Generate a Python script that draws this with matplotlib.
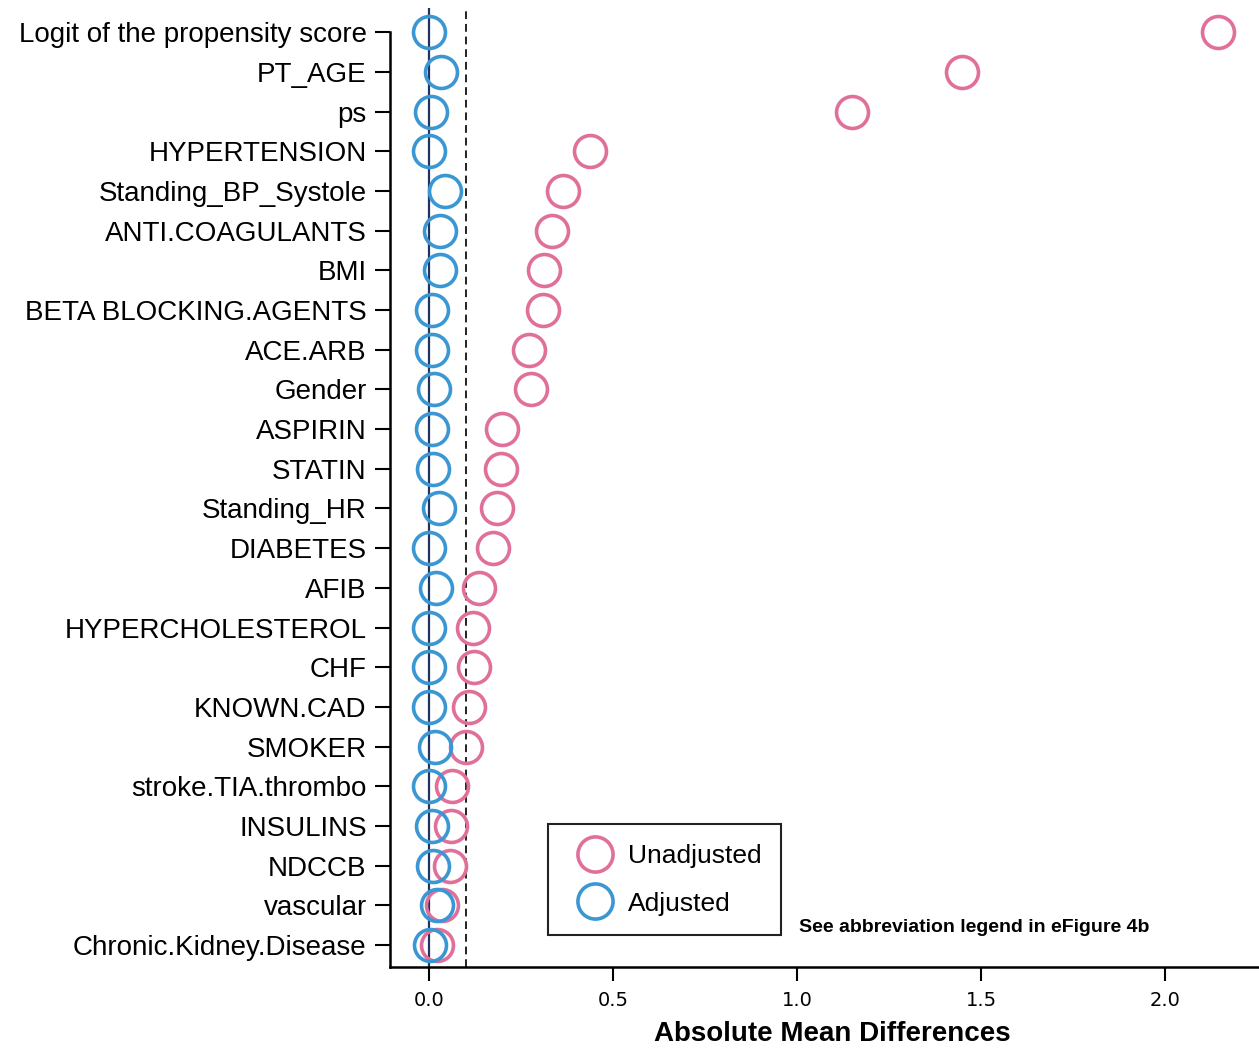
import numpy as np
import matplotlib as mpl
mpl.use('agg')
import matplotlib.pyplot as plt

## data, top row first
variables = ['Logit of the propensity score', 'PT_AGE', 'ps', 'HYPERTENSION',
             'Standing_BP_Systole', 'ANTI.COAGULANTS', 'BMI', 'BETA BLOCKING.AGENTS',
             'ACE.ARB', 'Gender', 'ASPIRIN', 'STATIN', 'Standing_HR', 'DIABETES',
             'AFIB', 'HYPERCHOLESTEROL', 'CHF', 'KNOWN.CAD', 'SMOKER',
             'stroke.TIA.thrombo', 'INSULINS', 'NDCCB', 'vascular',
             'Chronic.Kidney.Disease']
unadjusted = [2.144, 1.448, 1.149, 0.438, 0.364, 0.334, 0.313, 0.310, 0.272, 0.277,
              0.198, 0.196, 0.185, 0.174, 0.136, 0.120, 0.122, 0.109, 0.100,
              0.063, 0.060, 0.057, 0.035, 0.022]
adjusted = [0.000, 0.033, 0.005, 0.000, 0.043, 0.030, 0.030, 0.008, 0.008, 0.014,
            0.008, 0.011, 0.027, 0.000, 0.019, 0.000, 0.000, 0.000, 0.016,
            0.000, 0.008, 0.011, 0.020, 0.003]
threshold = 0.1

pink = '#e0709a'
blue = '#3a97d4'
plt.rcParams['font.family'] = ['Liberation Sans', 'DejaVu Sans']

n = len(variables)
y = np.arange(n, 0, -1)

fig = plt.figure(figsize=(12.59, 10.5), dpi=100)
ax = fig.add_axes([0.31, 0.079, 0.69, 0.913])

ax.axvline(0, color='#1d3560', lw=1.6, zorder=1)
ax.axvline(threshold, color='#222222', lw=1.4, ls=(0, (4, 2.5)), zorder=1)

ax.plot(unadjusted, y, ls='', marker='o', ms=23, mfc='none', mec=pink, mew=2.6,
        label='Unadjusted', zorder=3)
ax.plot(adjusted, y, ls='', marker='o', ms=23, mfc='none', mec=blue, mew=2.6,
        label='Adjusted', zorder=3)

ax.set_xlim(-0.106, 2.255)
ax.set_ylim(0.446, 24.6)
ax.set_yticks(y)
ax.set_yticklabels(variables, fontsize=20)
ax.set_xticks([0, 0.5, 1.0, 1.5, 2.0])
ax.set_xticklabels(['0.0', '0.5', '1.0', '1.5', '2.0'], fontsize=14, family='DejaVu Sans')
ax.tick_params(axis='y', length=11, width=1.5, pad=6)
ax.tick_params(axis='x', length=10, width=1.5, pad=7)

for s in ['top', 'right']:
    ax.spines[s].set_visible(False)
ax.spines['left'].set_linewidth(1.8)
ax.spines['bottom'].set_linewidth(1.8)
ax.spines['left'].set_bounds(0.446, n)

ax.set_xlabel('Absolute Mean Differences', fontsize=20, fontweight='bold')
ax.xaxis.set_label_coords(0.509, -0.056)

ax.legend(loc='lower left', bbox_to_anchor=(0.182, 0.033), fontsize=19, frameon=True,
          fancybox=False, edgecolor='#222222', framealpha=1, handletextpad=0.25,
          borderpad=0.75, labelspacing=0.9, markerscale=1.1, borderaxespad=0)
ax.get_legend().get_frame().set_linewidth(1.5)

ax.text(1.005, 1.45, 'See abbreviation legend in eFigure 4b', fontsize=14,
        fontweight='bold', va='center', ha='left')

fig.savefig('out.png', dpi=100)
